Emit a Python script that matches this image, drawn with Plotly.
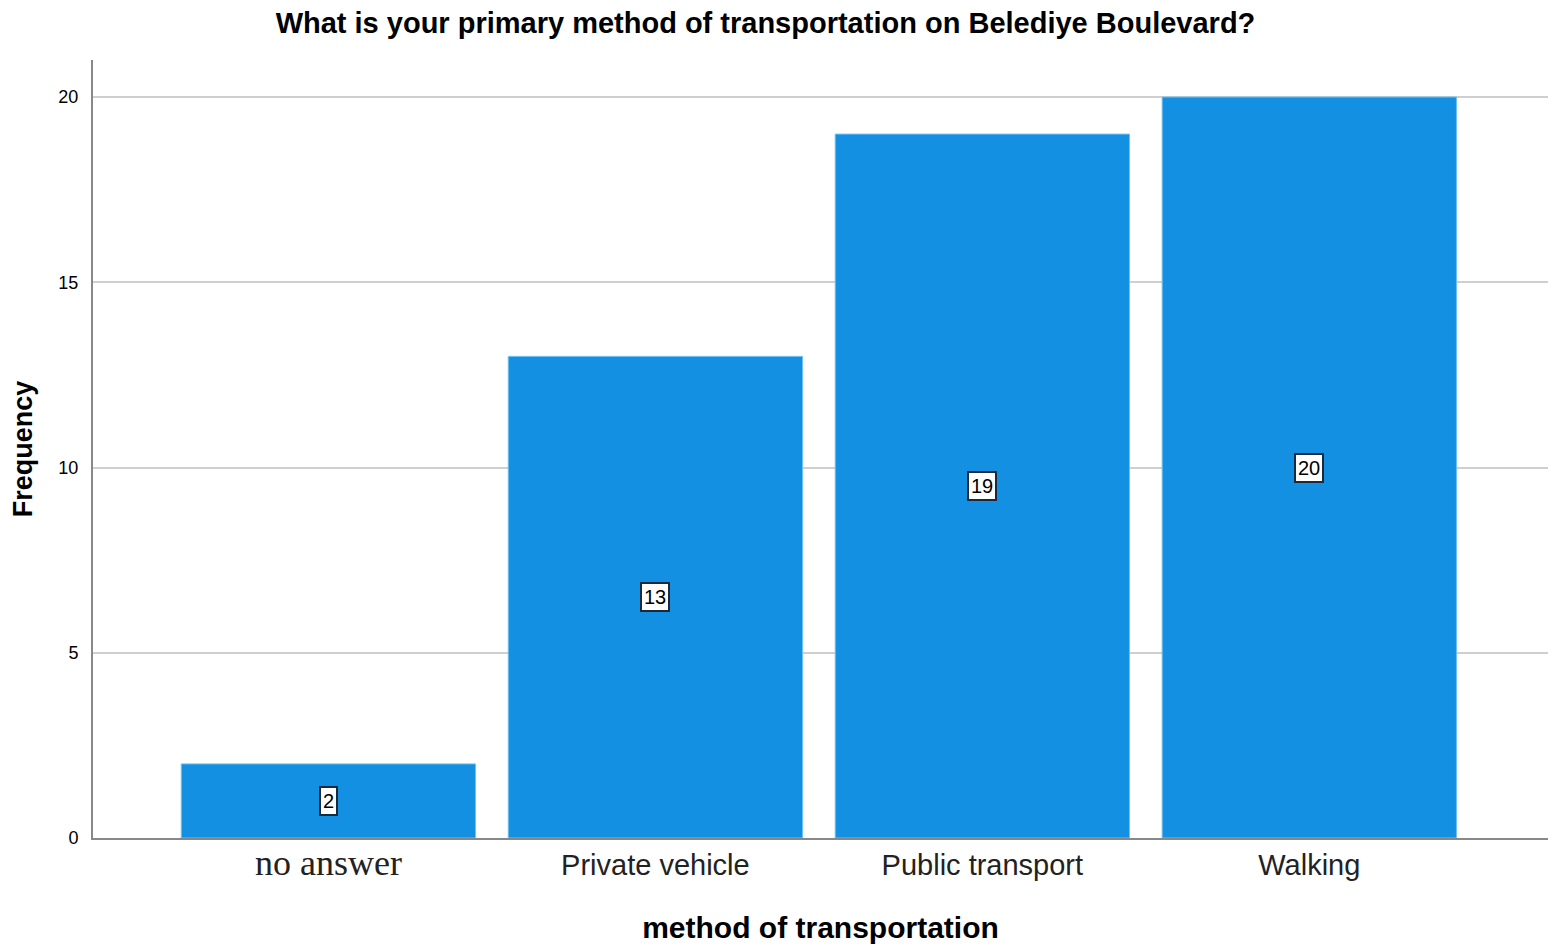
import plotly.graph_objects as go

categories = ["no answer", "Private vehicle", "Public transport", "Walking"]
frequency = [2, 13, 19, 20]
tick_labels = [
    '<span style="font-family:Liberation Serif, Times New Roman, serif;font-size:36px">no answer</span>',
    "Private vehicle",
    "Public transport",
    "Walking",
]
y_ticks = [0, 5, 10, 15, 20]

bar_color = "#1490E2"

fig = go.Figure()
fig.add_trace(go.Bar(
    x=categories,
    y=frequency,
    marker=dict(color=bar_color, line=dict(color="#6CC0F2", width=1)),
    width=0.9,
    hoverinfo="x+y",
))

for c, v in zip(categories, frequency):
    fig.add_annotation(
        x=c, y=v / 2, xref="x", yref="y",
        text=str(v), showarrow=False,
        font=dict(family="Arial, Liberation Sans", size=20, color="black"),
        bgcolor="white", bordercolor="#1a2a3a", borderwidth=2, borderpad=2,
    )

fig.update_layout(
    width=1557, height=946,
    paper_bgcolor="white", plot_bgcolor="white",
    margin=dict(l=85, r=17, t=52, b=116, autoexpand=False),
    title=dict(
        text="<b>What is your primary method of transportation on Belediye Boulevard?</b>",
        x=0.4865, xanchor="center", xref="container",
        y=0.995, yanchor="top", yref="container", pad=dict(t=0),
        font=dict(family="Arial, Liberation Sans", size=29, color="black"),
    ),
    showlegend=False,
    bargap=0.1,
)
fig.update_xaxes(
    range=[-0.72, 3.73],
    tickvals=categories, ticktext=tick_labels,
    tickfont=dict(family="Arial, Liberation Sans", size=29, color="#222"),
    showline=True, linecolor="#888", linewidth=2,
    ticks="", showgrid=False, automargin=False,
    ticklabelstandoff=0,
    title=dict(text="<b>method of transportation</b>",
               font=dict(family="Arial, Liberation Sans", size=30, color="black"),
               standoff=35),
)
fig.update_yaxes(
    range=[0, 21],
    tickvals=y_ticks,
    tickfont=dict(family="Arial, Liberation Sans", size=18, color="black"),
    showline=True, linecolor="#888", linewidth=2,
    showgrid=True, gridcolor="#CFCFCF", gridwidth=2,
    zeroline=False, ticks="", ticklen=0, automargin=False,
    ticklabelstandoff=9,
    title=dict(text="<b>Frequency</b>",
               font=dict(family="Arial, Liberation Sans", size=27, color="black"),
               standoff=30),
)

fig.write_html("out.html")
